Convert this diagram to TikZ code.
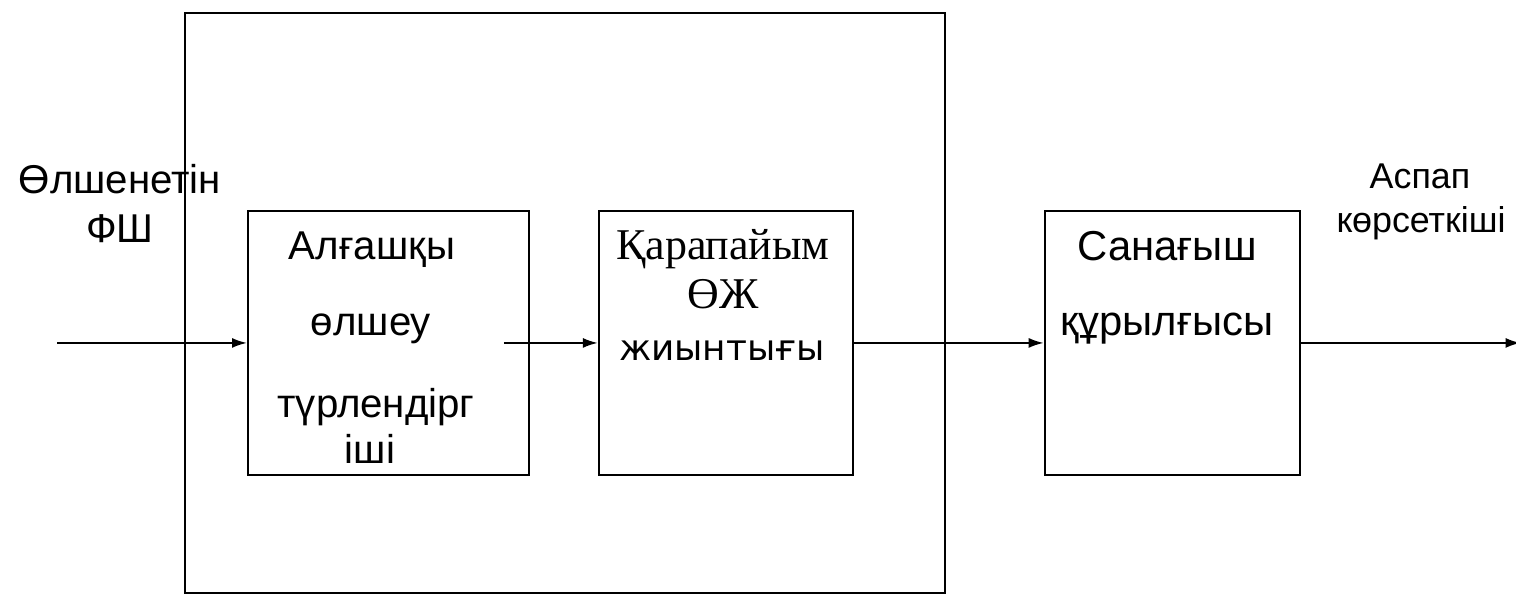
\documentclass[tikz,border=0pt]{standalone}
\usepackage{fontspec}
\setmainfont{Liberation Sans}
\newfontfamily\kzserif{Liberation Serif}
\newfontfamily\kzdeja{DejaVu Sans}
\usepackage{tikz}
\usetikzlibrary{positioning,arrows.meta}

\newcommand{\txtA}{\fontsize{22.9}{27}\selectfont}
\newcommand{\txtB}{\fontsize{23.8}{28}\selectfont}
\newcommand{\txtC}{\fontsize{20.4}{24}\selectfont}

\tikzset{
  blk/.style={draw, line width=1.1pt, inner sep=0pt, minimum height=5.28cm},
  lbl/.style={inner sep=0pt, anchor=base},
  sig/.style={line width=1.1pt, -{Latex[length=3mm,width=2mm]}},
}

\begin{document}
\begin{tikzpicture}[x=0.02cm,y=-0.02cm]
\useasboundingbox (0,0) rectangle (1516,605);

\node[draw, line width=1.1pt, inner sep=0pt, minimum width=15.2cm, minimum height=11.6cm, anchor=north west] (frame) at (184,12) {};

\node[blk, minimum width=5.62cm, anchor=north west] (conv) at (247,210) {};
\node[blk, minimum width=5.08cm, right=1.36cm of conv] (set) {};
\node[blk, minimum width=5.1cm, right=3.8cm of set] (count) {};

% input / output labels
\node[lbl] (inA) at (120,193) {\txtA Өлшенетін};
\node[lbl] (inB) at (120,242) {\txtA ФШ};
\node[lbl] (outA) at (1420,188) {\txtC Аспап};
\node[lbl] (outB) at (1421,232) {\txtC көрсеткіші};

% first box
\node[lbl] (c1) at (372,259) {\txtA Алғашқы};
\node[lbl] (c2) at (371,335) {\txtA өлшеу};
\node[lbl] (c3) at (376,417) {\txtA түрлендірг};
\node[lbl] (c4) at (370,463) {\txtA іші};

% second box
\node[lbl] (s1) at (723,259) {\fontsize{25}{30}\selectfont\kzserif Қарапайым};
\node[lbl] (s2) at (723,308) {\fontsize{25}{30}\selectfont\kzserif ӨЖ};
\node[lbl] (s3) at (722,360) {\txtC\kzdeja жиынтығы};

% third box
\node[lbl] (k1) at (1167,260) {\txtB Санағыш};
\node[lbl] (k2) at (1167,335) {\txtB құрылғысы};

\coordinate[left=3.8cm of conv.west] (src);
\coordinate[left=0.52cm of conv.east] (mid);
\coordinate[right=4.4cm of count.east] (dst);

\draw[sig] (src) -- (conv.west);
\draw[sig] (mid) -- (set.west);
\draw[sig] (set.east) -- (count.west);
\draw[sig] (count.east) -- (dst);
\end{tikzpicture}
\end{document}
